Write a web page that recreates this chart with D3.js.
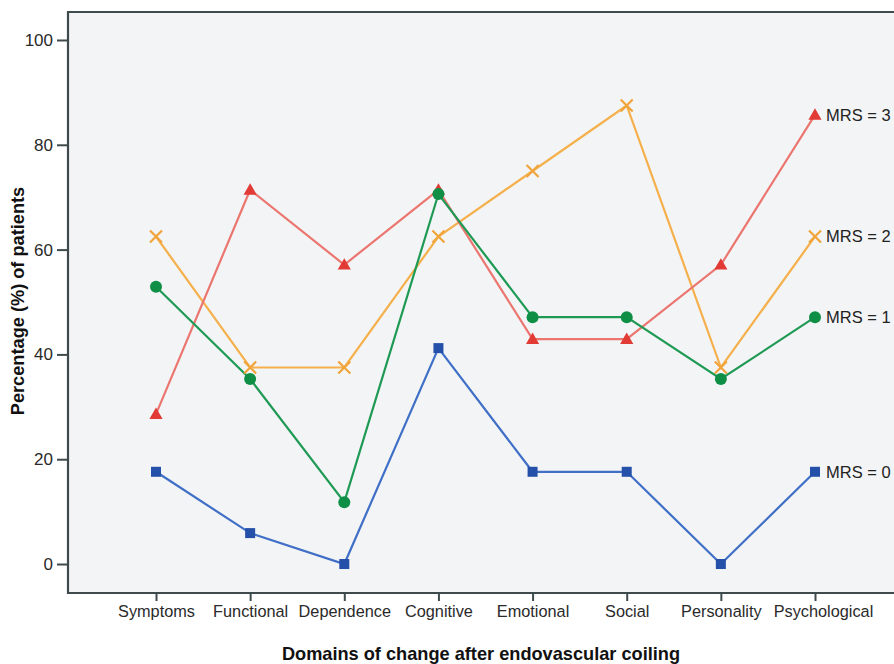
<!DOCTYPE html>
<html><head><meta charset="utf-8">
<script src="https://cdn.jsdelivr.net/npm/d3@7"></script>
<style>body{margin:0;background:#fff}svg{display:block}text{font-family:"Liberation Sans",Arial,sans-serif}</style>
</head><body><svg id="c" width="894" height="664"></svg>
<script>
const categories = ["Symptoms","Functional","Dependence","Cognitive","Emotional","Social","Personality","Psychological"];
const mrs0 = [17.6, 5.9, 0, 41.2, 17.6, 17.6, 0, 17.6];
const mrs1 = [52.9, 35.3, 11.8, 70.6, 47.1, 47.1, 35.3, 47.1];
const mrs2 = [62.5, 37.5, 37.5, 62.5, 75.0, 87.5, 37.5, 62.5];
const mrs3 = [28.6, 71.4, 57.1, 71.4, 42.9, 42.9, 57.1, 85.7];
const yTicks = [0, 20, 40, 60, 80, 100];
const seriesNames = ["MRS = 0","MRS = 1","MRS = 2","MRS = 3"];

const svg = d3.select("#c");
const L = 68, T = 12, R = 904, B = 593;
const x = d3.scalePoint().domain(categories).range([156, 815]);
const y = d3.scaleLinear().domain([-5.53, 105.34]).range([B, T]);

svg.append("rect").attr("x", L).attr("y", T).attr("width", R - L).attr("height", B - T).attr("fill", "#f3f4f6");

const series = [
  {name: seriesNames[2], vals: mrs2, line: "#f5b04c", mark: "#f0a43a", shape: "x"},
  {name: seriesNames[3], vals: mrs3, line: "#eb7670", mark: "#e23a34", shape: "tri"},
  {name: seriesNames[1], vals: mrs1, line: "#1f9a55", mark: "#0f8f45", shape: "circle"},
  {name: seriesNames[0], vals: mrs0, line: "#3f6fc6", mark: "#2450aa", shape: "square"}
];

const line = d3.line().x((d, i) => x(categories[i])).y(d => y(d));
series.forEach(s => {
  svg.append("path").datum(s.vals).attr("d", line).attr("fill", "none").attr("stroke", s.line).attr("stroke-width", 2.2);
});
series.forEach(s => {
  const g = svg.append("g");
  s.vals.forEach((v, i) => {
    const cx = x(categories[i]), cy = y(v);
    if (s.shape === "square") g.append("rect").attr("x", cx - 5).attr("y", cy - 5).attr("width", 10).attr("height", 10).attr("fill", s.mark);
    else if (s.shape === "circle") g.append("circle").attr("cx", cx).attr("cy", cy).attr("r", 6).attr("fill", s.mark);
    else if (s.shape === "tri") g.append("path").attr("d", d3.symbol(d3.symbolTriangle, 75)()).attr("transform", `translate(${cx},${cy + 1})`).attr("fill", s.mark);
    else g.append("path").attr("d", `M${cx-6},${cy-6}L${cx+6},${cy+6}M${cx-6},${cy+6}L${cx+6},${cy-6}`).attr("stroke", s.mark).attr("stroke-width", 2.2);
  });
  const lv = s.vals[s.vals.length - 1];
  svg.append("text").attr("x", x(categories[7]) + 11).attr("y", y(lv)).attr("dy", "0.36em")
    .attr("font-size", 16.5).attr("fill", "#222").text(s.name);
});

// frame
svg.append("path").attr("d", `M${R},${T}H${L}V${B}H${R}`).attr("fill", "none").attr("stroke", "#3e4a4c").attr("stroke-width", 2.2);

// y axis
const ya = svg.append("g").attr("transform", `translate(${L},0)`)
  .call(d3.axisLeft(y).tickValues(yTicks).tickSize(11).tickPadding(4));
ya.select(".domain").remove();
ya.selectAll(".tick line").attr("stroke", "#3e4a4c").attr("stroke-width", 2);
ya.selectAll(".tick text").attr("font-size", 17).attr("fill", "#2a2a2a").attr("font-family", "Liberation Sans, Arial, sans-serif");

// x axis
const xa = svg.append("g").attr("transform", `translate(0,${B})`)
  .call(d3.axisBottom(x).tickSize(8).tickPadding(4));
xa.select(".domain").remove();
xa.selectAll(".tick line").attr("stroke", "#3e4a4c").attr("stroke-width", 2);
xa.selectAll(".tick text").attr("font-size", 16.3).attr("fill", "#2a2a2a").attr("font-family", "Liberation Sans, Arial, sans-serif")
  .attr("dx", d => d === "Psychological" ? 8 : 0);

svg.append("text").attr("x", 481).attr("y", 660).attr("text-anchor", "middle").attr("font-size", 18.2)
  .attr("font-weight", "bold").attr("fill", "#111").text("Domains of change after endovascular coiling");
svg.append("text").attr("transform", "translate(24,301) rotate(-90)").attr("text-anchor", "middle").attr("font-size", 18.2)
  .attr("font-weight", "bold").attr("fill", "#111").text("Percentage (%) of patients");
</script></body></html>
